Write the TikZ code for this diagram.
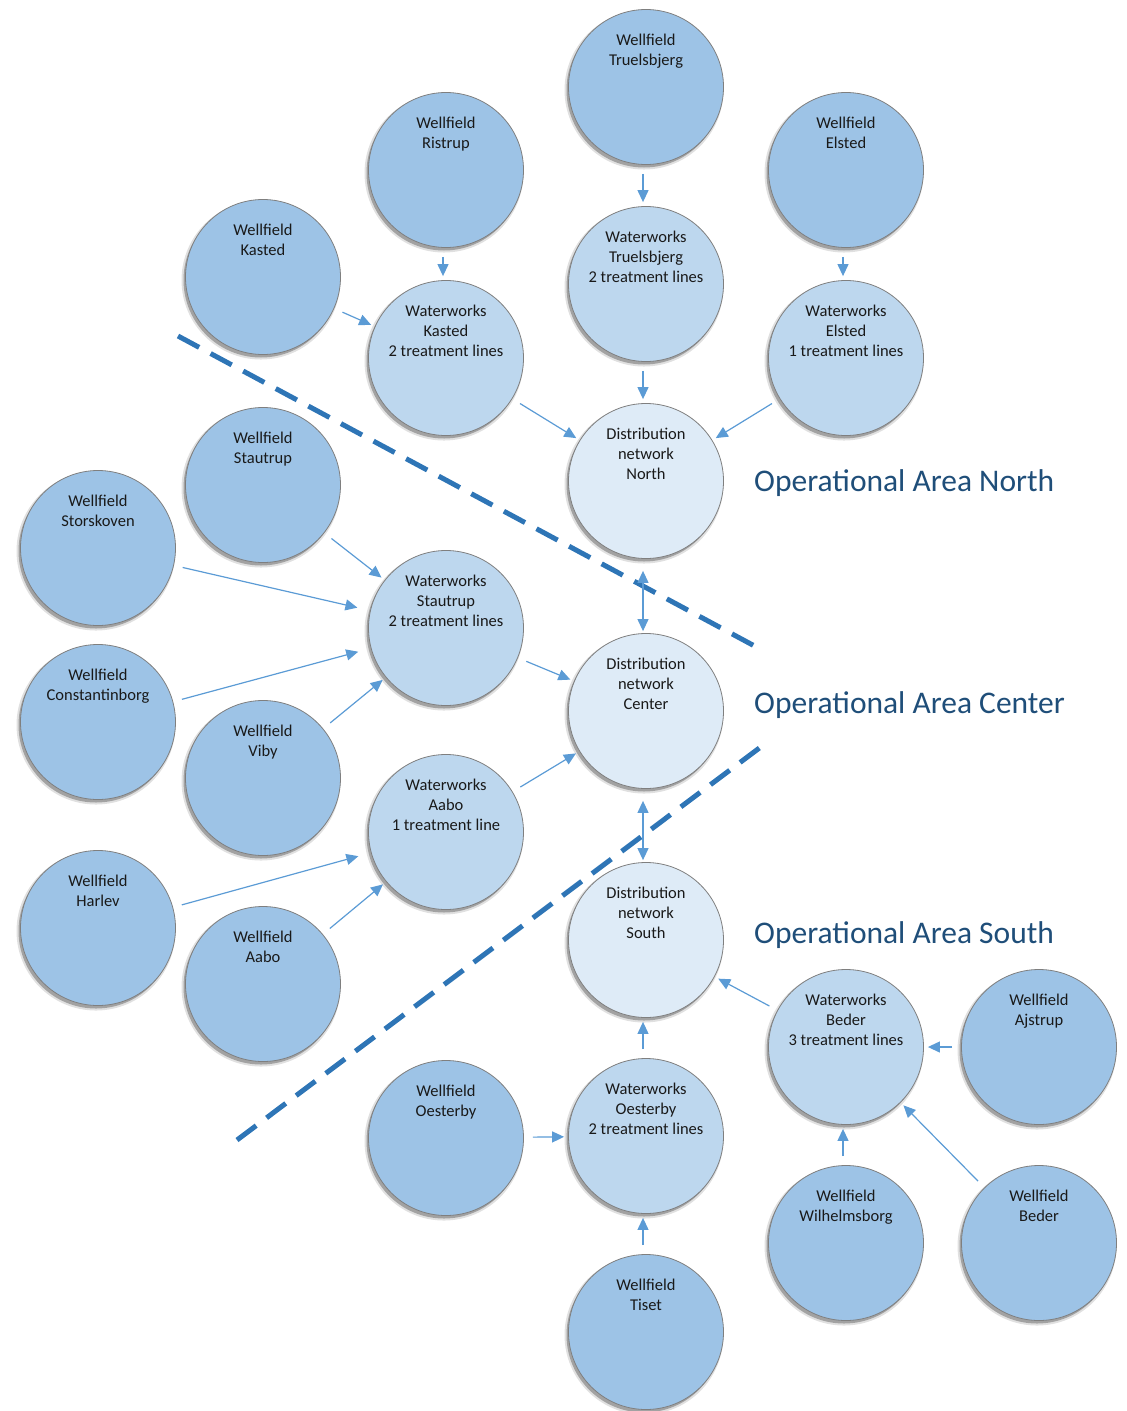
\documentclass[tikz,border=0pt]{standalone}
\usepackage{fontspec}
\setmainfont{Carlito}
\usetikzlibrary{arrows.meta,shadows}

\definecolor{wellC}{HTML}{9DC3E6}
\definecolor{worksC}{HTML}{BDD7EE}
\definecolor{distC}{HTML}{DEEBF7}
\definecolor{edgeC}{HTML}{7F7F7F}
\definecolor{flowC}{HTML}{5B9BD5}
\definecolor{zoneC}{HTML}{2E75B6}
\definecolor{areaC}{HTML}{1F4E79}

\tikzset{
  site/.style={circle, draw=edgeC, line width=0.8pt, minimum size=155pt, inner sep=0pt,
    drop shadow={shadow xshift=-2pt, shadow yshift=-3pt, shadow scale=1.025, opacity=0.12, fill=black},
    drop shadow={shadow xshift=-2pt, shadow yshift=-3pt, opacity=0.28, fill=black}},
  well/.style={site, fill=wellC},
  works/.style={site, fill=worksC},
  dist/.style={site, fill=distC},
  sitetext/.style={anchor=north, align=center, inner sep=0pt,
    font=\fontsize{16.5}{20}\selectfont, text=black!90},
  flow/.style={draw=flowC, line width=1.2pt, -{Triangle[length=12pt,width=11pt]},
    shorten <=9pt, shorten >=4pt},
  twoway/.style={draw=flowC, line width=1.2pt,
    {Triangle[length=12pt,width=11pt]}-{Triangle[length=12pt,width=11pt]},
    shorten <=12pt, shorten >=2pt},
  zone/.style={draw=zoneC, line width=5pt, dash pattern=on 24pt off 13pt},
  area/.style={anchor=west, text=areaC, font=\fontsize{31.5}{38}\selectfont, inner sep=0pt},
}

% style, name, x, y, label
\newcommand\siteat[5]{%
  \node[#1] (#2) at (#3,#4) {};
  \node[sitetext] (#2-t) at ([yshift=-25pt]#2.north) {#5};
}

\begin{document}
\begin{tikzpicture}[x=1pt,y=-1pt]
\useasboundingbox (0,0) rectangle (1127,1411);

% zone boundaries
\coordinate (zn1) at (178,336);
\coordinate (zn2) at (762,650);
\coordinate (zs1) at (237,1140);
\coordinate (zs2) at (762,746);
\draw[zone] (zn1) -- (zn2);
\draw[zone] (zs1) -- (zs2);

% north
\siteat{well}{wTru}{646}{87}{Wellfield\\Truelsbjerg}
\siteat{well}{wRis}{446}{170}{Wellfield\\Ristrup}
\siteat{well}{wEls}{846}{170}{Wellfield\\Elsted}
\siteat{well}{wKas}{263}{277}{Wellfield\\Kasted}
\siteat{works}{pTru}{646}{284}{Waterworks\\Truelsbjerg\\2 treatment lines}
\siteat{works}{pKas}{446}{358}{Waterworks\\Kasted\\2 treatment lines}
\siteat{works}{pEls}{846}{358}{Waterworks\\Elsted\\1 treatment lines}
\siteat{dist}{dN}{646}{481}{Distribution\\network\\North}

% center
\siteat{well}{wSta}{263}{485}{Wellfield\\Stautrup}
\siteat{well}{wSto}{98}{548}{Wellfield\\Storskoven}
\siteat{works}{pSta}{446}{628}{Waterworks\\Stautrup\\2 treatment lines}
\siteat{well}{wCon}{98}{722}{Wellfield\\Constantinborg}
\siteat{dist}{dC}{646}{711}{Distribution\\network\\Center}
\siteat{well}{wVib}{263}{778}{Wellfield\\Viby}
\siteat{works}{pAab}{446}{832}{Waterworks\\Aabo\\1 treatment line}
\siteat{well}{wHar}{98}{928}{Wellfield\\Harlev}
\siteat{well}{wAab}{263}{984}{Wellfield\\Aabo}

% south
\siteat{dist}{dS}{646}{940}{Distribution\\network\\South}
\siteat{works}{pBed}{846}{1047}{Waterworks\\Beder\\3 treatment lines}
\siteat{well}{wAjs}{1039}{1047}{Wellfield\\Ajstrup}
\siteat{well}{wOes}{446}{1138}{Wellfield\\Oesterby}
\siteat{works}{pOes}{646}{1136}{Waterworks\\Oesterby\\2 treatment lines}
\siteat{well}{wWil}{846}{1243}{Wellfield\\Wilhelmsborg}
\siteat{well}{wBed}{1039}{1243}{Wellfield\\Beder}
\siteat{well}{wTis}{646}{1332}{Wellfield\\Tiset}

% area captions
\node[area] (aN) at (754,483) {Operational Area North};
\node[area] (aC) at (754,705) {Operational Area Center};
\node[area] (aS) at (754,935) {Operational Area South};

% flows, north
\draw[flow] ([xshift=-3pt]wTru.south) -- ([xshift=-3pt]pTru.north);
\draw[flow] ([xshift=-3pt]wRis.south) -- ([xshift=-3pt]pKas.north);
\draw[flow] ([xshift=-3pt]wEls.south) -- ([xshift=-3pt]pEls.north);
\draw[flow] (wKas) -- (pKas);
\draw[flow] ([xshift=-3pt]pTru.south) -- ([xshift=-3pt]dN.north);
\draw[flow] (pKas) -- (dN);
\draw[flow] (pEls) -- (dN);

% flows, center
\draw[flow] (wSta) -- (pSta);
\draw[flow, shorten >=13pt] (wSto) -- (pSta);
\draw[flow, shorten >=13pt] (wCon) -- (pSta);
\draw[flow] (wVib) -- (pSta);
\draw[flow] (pSta) -- (dC);
\draw[flow] (pAab) -- (dC);
\draw[flow, shorten >=13pt] (wHar) -- (pAab);
\draw[flow] (wAab) -- (pAab);

% links between distribution networks
\draw[twoway] ([xshift=-3pt]dN.south) -- ([xshift=-3pt]dC.north);
\draw[twoway] ([xshift=-3pt]dC.south) -- ([xshift=-3pt]dS.north);

% flows, south
\draw[flow] (pBed) -- (dS);
\draw[flow] (wAjs) -- (pBed);
\draw[flow] ([xshift=-3pt]wWil.north) -- ([xshift=-3pt]pBed.south);
\draw[flow] (wBed) -- (pBed);
\draw[flow] ([xshift=-3pt]pOes.north) -- ([xshift=-3pt]dS.south);
\draw[flow] (wOes) -- (pOes);
\draw[flow] ([xshift=-3pt]wTis.north) -- ([xshift=-3pt]pOes.south);
\end{tikzpicture}
\end{document}
